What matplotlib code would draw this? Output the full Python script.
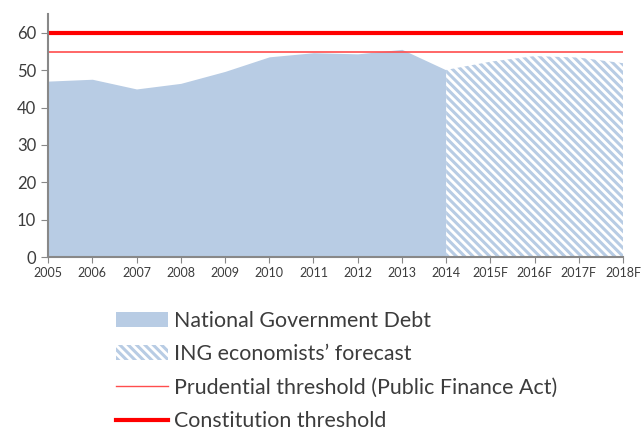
import numpy as np
import matplotlib
matplotlib.use("Agg")
from matplotlib import pyplot as plt
from matplotlib.patches import Patch
from matplotlib.lines import Line2D

plt.rcParams['font.family'] = ['Lato', 'DejaVu Sans']
plt.rcParams['hatch.color'] = '#b8cce4'
plt.rcParams['hatch.linewidth'] = 2.2

years = ['2005', '2006', '2007', '2008', '2009', '2010', '2011', '2012', '2013', '2014',
         '2015F', '2016F', '2017F', '2018F']
debt = [47.1, 47.6, 45.0, 46.5, 49.7, 53.6, 54.7, 54.4, 55.6, 50.1]
forecast = [50.1, 52.3, 53.8, 53.4, 51.9]
prudential = 55
constitution = 60

blue = '#b8cce4'
txt = '#3c3c3c'
hatch = '\\' * 4

fig = plt.figure(figsize=(6.41, 4.32), dpi=100)
ax = fig.add_axes([0.075, 0.405, 0.897, 0.562])

x = np.arange(len(years))
ax.fill_between(x[:len(debt)], debt, color=blue, lw=0)
xf = x[len(debt) - 1:]
ax.fill_between(xf, forecast, facecolor='white', edgecolor=blue, hatch=hatch, lw=0)
ax.axhline(prudential, color='#ff4d4d', lw=1.2)
ax.axhline(constitution, color='#ff0000', lw=3)

ax.set_xlim(0, len(years) - 1)
ax.set_ylim(0, 65)
ax.set_yticks(range(0, 61, 10))
ax.set_xticks(x)
ax.set_xticklabels(years, fontsize=9, color=txt)
ax.tick_params(axis='y', labelsize=12, colors=txt, length=5, color='#888888')
ax.tick_params(axis='x', length=4, color='#888888', pad=3)
for s in ['top', 'right']:
    ax.spines[s].set_visible(False)
for s in ['left', 'bottom']:
    ax.spines[s].set_color('#888888')
    ax.spines[s].set_linewidth(1.5)

handles = [
    Patch(facecolor=blue, lw=0),
    Patch(facecolor='white', edgecolor=blue, hatch=hatch, lw=0),
    Line2D([], [], color='#ff4d4d', lw=1),
    Line2D([], [], color='#ff0000', lw=3),
]
labels = ['National Government Debt', 'ING economists\u2019 forecast',
          'Prudential threshold (Public Finance Act)', 'Constitution threshold']
leg = fig.legend(handles, labels, loc='upper left', bbox_to_anchor=(0.167, 0.3),
                 frameon=False, fontsize=15.4, handlelength=2.45, handleheight=0.7,
                 handletextpad=0.3, labelspacing=0.63, borderaxespad=0)
for t in leg.get_texts():
    t.set_color(txt)

fig.savefig('out.png', dpi=100)
